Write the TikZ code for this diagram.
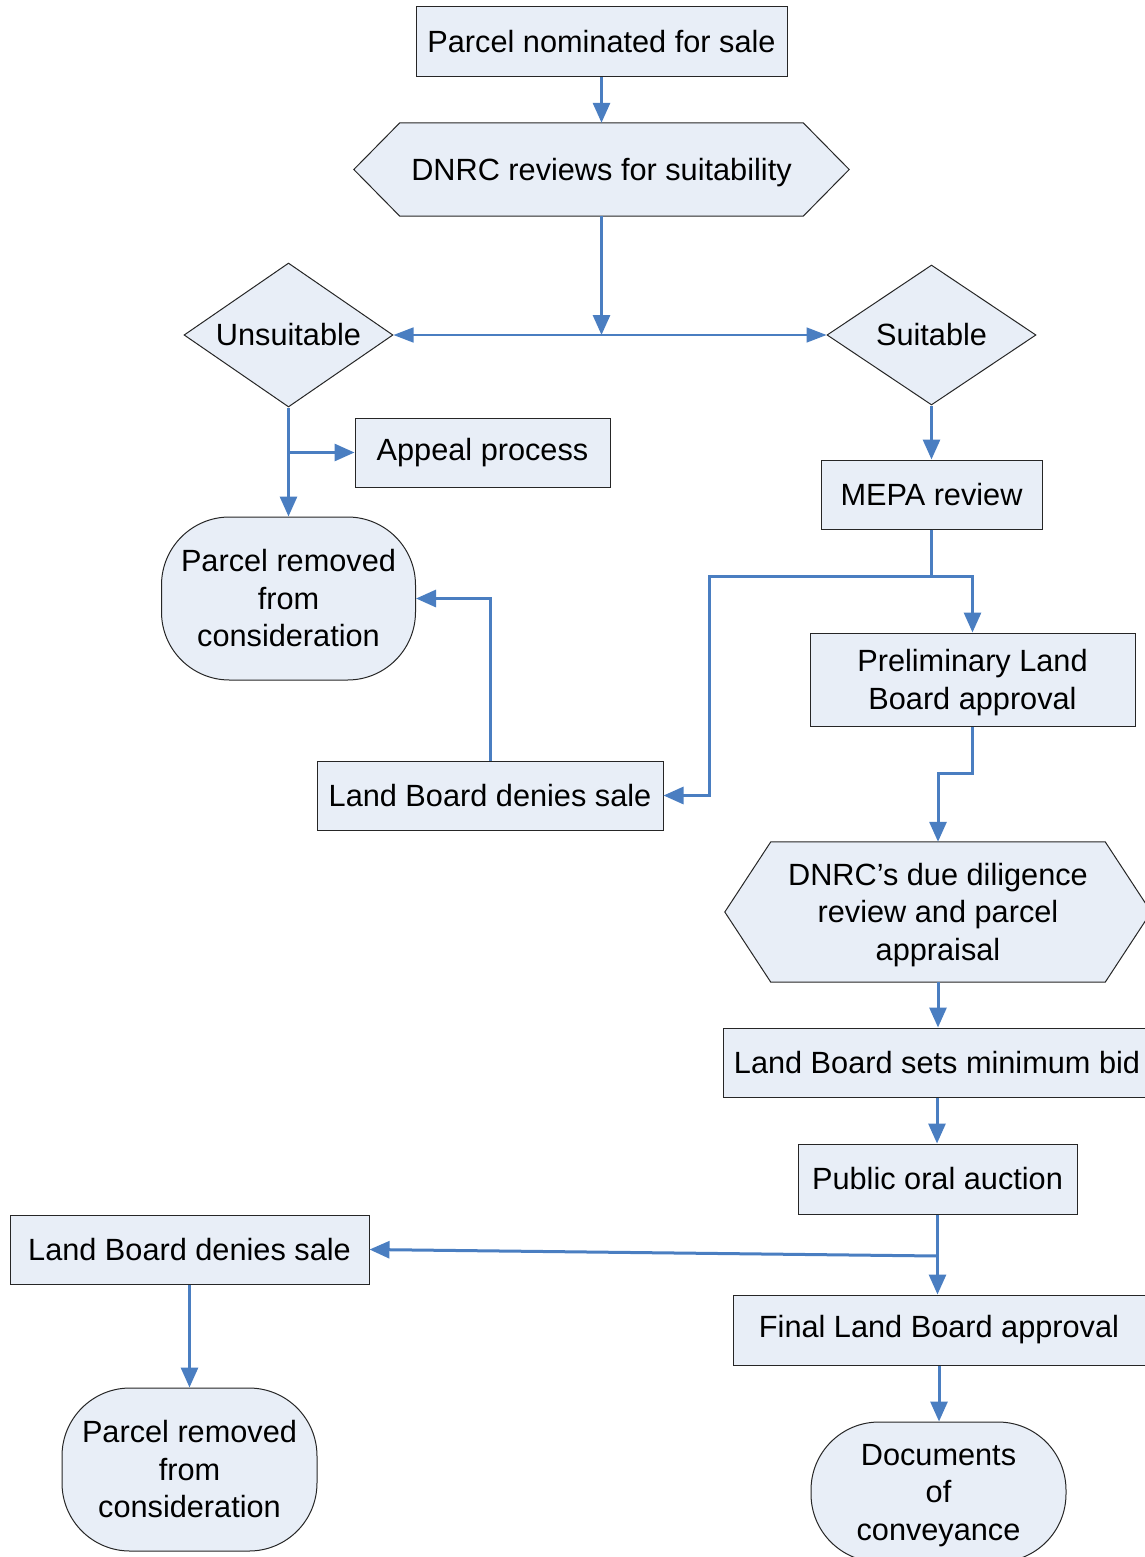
\documentclass[tikz,border=0pt]{standalone}
\usepackage{fontspec}
\setmainfont{Liberation Sans}
\usetikzlibrary{arrows.meta,shapes.geometric,calc,backgrounds}
\definecolor{fillc}{RGB}{232,238,247}
\definecolor{arrc}{RGB}{74,126,193}
\tikzset{
  lbl/.style={font=\fontsize{30.7}{37.5}\selectfont, inner sep=0pt, align=center},
  box/.style={lbl, draw=black!85, fill=fillc, line width=1pt, rectangle},
  stadium/.style={box, rounded corners=68pt},
  dia/.style={lbl, draw=black!85, fill=fillc, line width=1pt, diamond, aspect=1.45},
  hexnode/.style={lbl, rectangle, draw=none},
  hexline/.style={draw=black!85, fill=fillc, line width=1pt},
  arr/.style={draw=arrc, line width=3pt, -{Triangle[length=20pt,width=17pt]}},
  thinarr/.style={draw=arrc, line width=1.5pt, {Triangle[length=20pt,width=15pt]}-{Triangle[length=20pt,width=15pt]}}
}
\newcommand\mystrut{\rule{0pt}{28pt}}
\newcommand\hexdraw[2]{%
  \draw[hexline] (#1.west) -- ($(#1.north west)+(#2,0)$) -- ($(#1.north east)+(-#2,0)$) -- (#1.east) -- ($(#1.south east)+(-#2,0)$) -- ($(#1.south west)+(#2,0)$) -- cycle;}
\begin{document}
\begin{tikzpicture}[x=1pt,y=-1pt]
\clip (0,0) rectangle (1145,1557);
% nodes
\node[box, minimum width=371pt, minimum height=70pt] (n1) at (601.5,42) {Parcel nominated for sale};
\node[hexnode, minimum width=495pt, minimum height=93pt] (hex1) at (601.5,169.5) {\mystrut DNRC reviews for suitability};
\node[dia, minimum width=209pt, minimum height=144pt] (uns) at (288.5,335) {Unsuitable};
\node[dia, minimum width=209pt, minimum height=140pt] (suit) at (931.5,335) {Suitable};
\node[box, minimum width=255pt, minimum height=69pt] (app) at (482.5,452.5) {Appeal process};
\node[box, minimum width=221pt, minimum height=69pt] (mepa) at (931.5,494.5) {MEPA review};
\node[stadium, minimum width=254pt, minimum height=163pt] (pr1) at (288.5,598.5) {Parcel removed\\from\\consideration};
\node[box, minimum width=346pt, minimum height=69pt] (lbd1) at (490,795.5) {Land Board denies sale};
\node[box, minimum width=325pt, minimum height=93pt] (prelim) at (972.5,679.5) {\mystrut Preliminary Land\\Board approval};
\node[hexnode, minimum width=426pt, minimum height=140pt] (hex2) at (938,912) {\mystrut DNRC’s due diligence\\review and parcel\\appraisal};
\node[box, minimum width=428pt, minimum height=69pt] (minbid) at (937,1062.5) {Land Board sets minimum bid};
\node[box, minimum width=279pt, minimum height=70pt] (auction) at (937.5,1179) {Public oral auction};
\node[box, minimum width=412pt, minimum height=70pt] (final) at (939,1330) {Final Land Board approval};
\node[stadium, minimum width=255pt, minimum height=140pt] (docs) at (938.5,1492) {\mystrut Documents\\of\\conveyance};
\node[box, minimum width=359pt, minimum height=69pt] (lbd2) at (189.5,1249.5) {Land Board denies sale};
\node[stadium, minimum width=255pt, minimum height=163pt] (pr2) at (189.5,1469.5) {Parcel removed\\from\\consideration};
\begin{pgfonlayer}{background}
\hexdraw{hex1}{46}
\hexdraw{hex2}{46}
\end{pgfonlayer}
% coordinates
\coordinate (split) at (601.5,335);
\coordinate (mj) at (931.5,576);
\coordinate (bend1) at (709,576);
\coordinate (pj) at (972.5,773);
\coordinate (aj) at (937.5,1256);
% connectors
\draw[arr] (n1) -- (hex1);
\draw[arr] (hex1.south) -- (split);
\draw[thinarr] (uns.east) -- (suit.west);
\draw[arr] (uns.south) -- (pr1.north);
\draw[arr] (uns.south |- app.west) -- (app.west);
\draw[arr] (suit.south) -- (mepa.north);
\draw[arr] (mepa.south) -- (mj) -| (prelim.north);
\draw[arr] (mj) -- (bend1) |- (lbd1.east);
\draw[arr] (lbd1.north) |- (pr1.east);
\draw[arr] (prelim.south) -- (pj) -| (hex2.north);
\draw[arr] (hex2.south) -- (hex2.south |- minbid.north);
\draw[arr] (minbid.south) -- (minbid.south |- auction.north);
\draw[arr] (auction.south) -- (auction.south |- final.north);
\draw[arr] (aj) -- (lbd2.east);
\draw[arr] (final.south) -- (final.south |- docs.north);
\draw[arr] (lbd2.south) -- (pr2.north);
\end{tikzpicture}
\end{document}
